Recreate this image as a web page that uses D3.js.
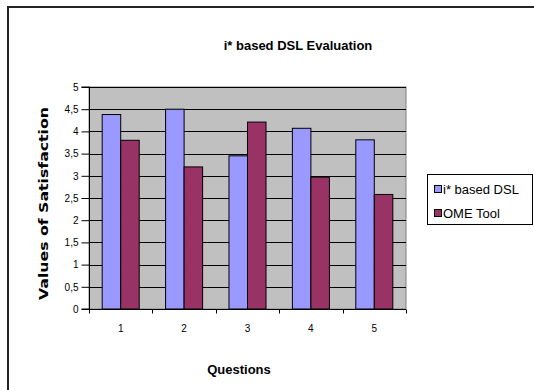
<!DOCTYPE html>
<html><head><meta charset="utf-8">
<script src="https://cdn.jsdelivr.net/npm/d3@7"></script>
<style>body{margin:0;background:#fff}svg{display:block}</style>
</head><body>
<svg id="c" width="534" height="390"></svg>
<script>
const categories = ["1","2","3","4","5"];
const seriesNames = ["i* based DSL","OME Tool"];
const dslValues = [4.38, 4.5, 3.45, 4.07, 3.81];
const omeValues = [3.8, 3.2, 4.21, 2.97, 2.58];
const yTicks = [0,0.5,1,1.5,2,2.5,3,3.5,4,4.5,5];
const colors = ["#9999FF","#993366"];

const svg = d3.select("#c");
const L = 89, R = 406, T = 87, B = 309;
const font = "Arial, 'Liberation Sans', sans-serif";

// outer frame
svg.append("path").attr("d","M8,400 V7 H540").attr("fill","none").attr("stroke","#222").attr("stroke-width",2);

const x = d3.scaleBand().domain(categories).range([L,R]).paddingInner(0.416).paddingOuter(0.208);
const xs = d3.scaleBand().domain(seriesNames).range([0,x.bandwidth()]);
const y = d3.scaleLinear().domain([0,5]).range([B,T]);

svg.append("rect").attr("x",L).attr("y",T).attr("width",R-L).attr("height",B-T).attr("fill","#C0C0C0")
  .attr("stroke","#808080").attr("stroke-width",1);

// gridlines
svg.append("g").selectAll("line").data(yTicks.filter(d=>d>0)).join("line")
  .attr("x1",L).attr("x2",R).attr("y1",d=>Math.round(y(d))+0.5).attr("y2",d=>Math.round(y(d))+0.5)
  .attr("stroke","#000").attr("stroke-width",1);

// bars
const data = categories.map((c,i)=>({c, vals:[dslValues[i], omeValues[i]]}));
const g = svg.append("g");
data.forEach(d=>{
  d.vals.forEach((v,j)=>{
    g.append("rect").attr("x",x(d.c)+xs(seriesNames[j])).attr("y",y(v))
      .attr("width",xs.bandwidth()).attr("height",B-y(v))
      .attr("fill",colors[j]).attr("stroke","#000").attr("stroke-width",1);
  });
});

// y axis
const yAxis = d3.axisLeft(y).tickValues(yTicks).tickSize(8).tickPadding(3)
  .tickFormat(d=>String(d).replace(".",","));
const ya = svg.append("g").attr("transform",`translate(${L+0.5},0)`).call(yAxis);
ya.selectAll("text").attr("font-family",font).attr("font-size",10).attr("fill","#000");
ya.selectAll("line").attr("stroke","#000");
ya.select(".domain").attr("stroke","#000").attr("d",`M-8,${y(5)}H0V${B}H-8`);

// x axis
const xAxis = d3.axisBottom(x).tickSize(0).tickPadding(15);
const xa = svg.append("g").attr("transform",`translate(0,${B+0.5})`).call(xAxis);
xa.selectAll("text").attr("font-family",font).attr("font-size",10).attr("fill","#000");
xa.select(".domain").attr("stroke","#000").attr("d",`M${L},0H${R}`);
const bounds = categories.map(c=>x(c)-x.step()*x.paddingInner()/2).concat([R]);
xa.selectAll("line.b").data(bounds).join("line").attr("class","b")
  .attr("x1",d=>Math.round(d)+0.5).attr("x2",d=>Math.round(d)+0.5).attr("y1",0).attr("y2",4).attr("stroke","#000");

// titles
svg.append("text").attr("x",298).attr("y",50).attr("text-anchor","middle")
  .attr("font-family",font).attr("font-weight","bold").attr("font-size",13).text("i* based DSL Evaluation");
svg.append("text").attr("x",239).attr("y",374).attr("text-anchor","middle")
  .attr("font-family",font).attr("font-weight","bold").attr("font-size",13).text("Questions");
svg.append("text").attr("transform","translate(48,203.5) rotate(-90)").attr("text-anchor","middle")
  .attr("font-family","'DejaVu Sans', sans-serif").attr("font-weight","bold").attr("font-size",13)
  .attr("textLength",193).attr("lengthAdjust","spacingAndGlyphs").text("Values of Satisfaction");

// legend
const lg = svg.append("g");
lg.append("rect").attr("x",427.5).attr("y",174.5).attr("width",105).attr("height",50)
  .attr("fill","#fff").attr("stroke","#000").attr("stroke-width",1);
seriesNames.forEach((n,i)=>{
  lg.append("rect").attr("x",434.5).attr("y",185.5+i*24).attr("width",7).attr("height",7)
    .attr("fill",colors[i]).attr("stroke","#000");
  lg.append("text").attr("x",443).attr("y",194+i*24).attr("font-family",font).attr("font-size",13).text(n);
});
</script>
</body></html>
